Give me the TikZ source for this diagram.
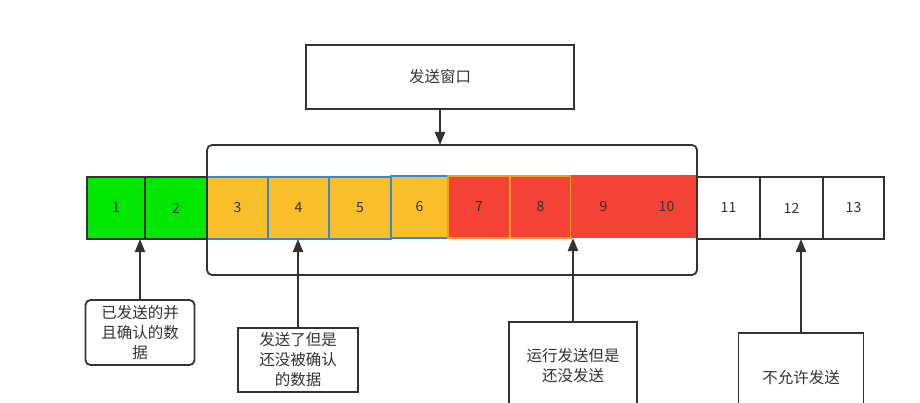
\documentclass[tikz,border=0pt]{standalone}
\usepackage{fontspec}
\setmainfont{Noto Sans CJK SC}
\usetikzlibrary{arrows.meta}
\definecolor{cgreen}{RGB}{0,232,0}
\definecolor{cyellow}{RGB}{249,191,42}
\definecolor{cred}{RGB}{244,67,54}
\definecolor{cblue}{RGB}{58,134,214}
\definecolor{corange}{RGB}{245,154,35}
\definecolor{cline}{RGB}{51,51,51}
\definecolor{ctext}{RGB}{51,51,51}
\begin{document}
\begin{tikzpicture}[x=1pt,y=-1pt,
  cell/.style={rectangle,inner sep=0pt,outer sep=0pt,line width=1.6pt,text=ctext,
    font=\fontsize{14}{17}\selectfont},
  label/.style={rectangle,inner sep=0pt,outer sep=0pt,draw=cline,line width=1.8pt,
    fill=white,text=ctext,align=center,font=\fontsize{15.5}{20}\selectfont},
  arr/.style={draw=cline,line width=2.2pt,-{Triangle[width=10pt,length=13pt]}}]
\path[use as bounding box,clip] (0,0) rectangle (920,403);
\fill[white] (0,0) rectangle (920,403);
% cells: name, left, right, top, bottom, fill, draw
\foreach \n/\l/\r/\t/\b/\f/\d in {
  1/87/145/177/239/cgreen/cline,
  2/145/207/177/239/cgreen/cline,
  3/207/268/177/239/cyellow/cblue,
  4/268/329/177/239/cyellow/cblue,
  5/329/391/177/239/cyellow/cblue,
  6/391/448/176/238/cyellow/cblue,
  7/448/510/176/238/cred/corange,
  8/510/571/176/238/cred/corange,
  9/571/636/175/238/cred/none,
  10/636/697/175/238/cred/none,
  11/697/760/177/239/white/cline,
  12/760/823/177/239/white/cline,
  13/823/884/177/239/white/cline}{
  \node[cell,fill=\f,draw=\d,minimum width={(\r-\l)*1pt},minimum height={(\b-\t)*1pt}]
    (c\n) at ({(\l+\r)/2},{(\t+\b)/2}) {\n};
}
% sending window
\node[rectangle,draw=cline,line width=1.8pt,rounded corners=5pt,inner sep=0pt,outer sep=0pt,
  minimum width=490pt,minimum height=130pt] (win) at (452,210) {};
% title box
\node[label,minimum width=268pt,minimum height=64pt] (title) at (440,77) {发送窗口};
\draw[arr] (title.south) -- (win.north -| title.south);
% lower boxes
\node[label,rounded corners=5pt,minimum width=109pt,minimum height=65pt] (b1) at (140,332.5)
  {已发送的并\\且确认的数\\据};
\node[label,minimum width=120pt,minimum height=64pt] (b2) at (298,360)
  {发送了但是\\还没被确认\\的数据};
\node[label,minimum width=128pt,minimum height=88pt] (b3) at (573,366)
  {运行发送但是\\还没发送};
\node[label,minimum width=125pt,minimum height=90pt] (b4) at (801,378)
  {不允许发送};
\draw[arr] (b1.north) -- (b1.north |- c1.south);
\draw[arr] (b2.north) -- (b2.north |- c4.south);
\draw[arr] (b3.north) -- (b3.north |- c8.south);
\draw[arr] (b4.north) -- (b4.north |- c12.south);
\end{tikzpicture}
\end{document}
